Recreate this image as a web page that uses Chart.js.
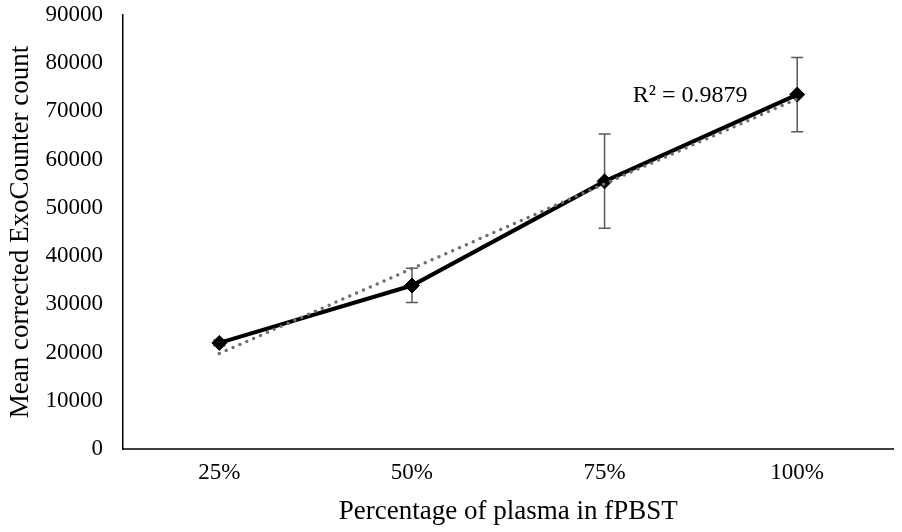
<!DOCTYPE html>
<html>
<head>
<meta charset="utf-8">
<script src="https://cdn.jsdelivr.net/npm/chart.js@4/dist/chart.umd.min.js"></script>
<style>
  html, body { margin: 0; padding: 0; background: #fff; overflow: hidden; }
</style>
</head>
<body>
<canvas id="line" width="902" height="532"></canvas>
<script>
const labels = ['25%', '50%', '75%', '100%'];
const meanCount = [22000, 33900, 55500, 73500];
const errLow = [21400, 30400, 45800, 65800];
const errHigh = [22600, 37500, 65300, 81200];
const trendValues = [19800, 37400, 55000, 72600];
const rSquared = 'R² = 0.9879';

const font = 'Liberation Serif';

// error bars + R² label
const extras = {
    id: 'extras',
    beforeDatasetsDraw(chart) {
        const ctx = chart.ctx;
        const x = chart.scales.x, y = chart.scales.y;
        ctx.save();
        ctx.strokeStyle = '#595959';
        ctx.lineWidth = 1.5;
        labels.forEach((l, i) => {
            const px = x.getPixelForValue(i);
            const top = y.getPixelForValue(errHigh[i]);
            const bot = y.getPixelForValue(errLow[i]);
            ctx.beginPath();
            ctx.moveTo(px, top); ctx.lineTo(px, bot);
            ctx.moveTo(px - 6, top); ctx.lineTo(px + 6, top);
            ctx.moveTo(px - 6, bot); ctx.lineTo(px + 6, bot);
            ctx.stroke();
        });
        ctx.restore();
    },
    afterDraw(chart) {
        const ctx = chart.ctx;
        const x = chart.scales.x, y = chart.scales.y;
        ctx.save();
        ctx.fillStyle = '#000';
        ctx.font = '24px "' + font + '"';
        ctx.textAlign = 'center';
        ctx.textBaseline = 'alphabetic';
        ctx.fillText(rSquared, x.getPixelForValue(3) - 107, y.getPixelForValue(trendValues[3]) + 3);
        ctx.restore();
    }
};

new Chart(
    document.getElementById('line'),
    {
        type: 'line',
        plugins: [extras],
        options: {
            responsive: false,
            animation: false,
            layout: { padding: { top: 15, right: 0, left: 5, bottom: 4 } },
            plugins: {
                legend: { display: false },
                tooltip: { enabled: false }
            },
            scales: {
                x: {
                    offset: true,
                    grid: { display: false, drawTicks: false },
                    border: { display: true, color: '#404040', width: 2 },
                    ticks: { color: '#000', font: { family: font, size: 23 }, padding: 10 },
                    title: {
                        display: true,
                        text: 'Percentage of plasma in fPBST',
                        color: '#000',
                        font: { family: font, size: 27 },
                        padding: { top: 3, bottom: 0 }
                    },
                    afterFit: (scale) => {
                        scale.height = 79;
                        scale.paddingLeft = 0;
                        scale.paddingRight = 0;
                    }
                },
                y: {
                    min: 0,
                    max: 90000,
                    grid: { display: false, drawTicks: false },
                    border: { display: true, color: '#000', width: 1.5 },
                    ticks: {
                        stepSize: 10000,
                        color: '#000',
                        font: { family: font, size: 23 },
                        padding: 20,
                        callback: (v) => String(v)
                    },
                    title: {
                        display: true,
                        text: 'Mean corrected ExoCounter count',
                        color: '#000',
                        font: { family: font, size: 27 },
                        padding: { top: 0, bottom: 2 }
                    },
                    afterFit: (scale) => {
                        scale.width = 118;
                        scale.paddingTop = 0;
                        scale.paddingBottom = 0;
                    }
                }
            }
        },
        data: {
            labels: labels,
            datasets: [
                {
                    label: 'Linear trend',
                    data: trendValues,
                    borderColor: '#6e6e6e',
                    borderWidth: 3.5,
                    borderDash: [0, 7.5],
                    borderCapStyle: 'round',
                    pointRadius: 0,
                    order: 0
                },
                {
                    label: 'Mean count',
                    data: meanCount,
                    borderColor: '#000',
                    backgroundColor: '#000',
                    borderWidth: 4,
                    pointStyle: 'rectRot',
                    pointRadius: 7.5,
                    pointBorderWidth: 1,
                    order: 1
                }
            ]
        }
    }
);
</script>
</body>
</html>
